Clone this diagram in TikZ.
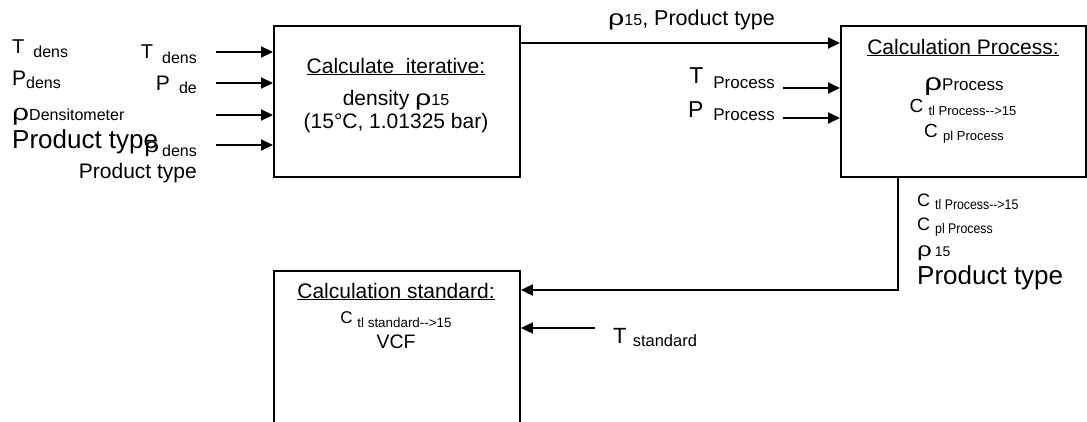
\documentclass[tikz,border=0pt]{standalone}
\usepackage{graphicx}
\usepackage{fontspec}
\setmainfont{Liberation Sans}
\newfontfamily\narrowfont{Liberation Sans}[FakeStretch=0.88]
\usetikzlibrary{arrows.meta}
\newcommand\myfs[1]{\fontsize{#1}{#1}\selectfont}
\newcommand\lowsub[2]{\raisebox{-#1}{#2}}
\newcommand\rh[1]{\scalebox{1.3}[1]{\myfs{#1}ρ}}
\begin{document}
\begin{tikzpicture}[x=1pt,y=-1pt,
  box/.style={draw=black, line width=1.9pt, rectangle, inner sep=0pt, anchor=north west},
  conn/.style={line width=1.9pt, -{Triangle[length=12pt,width=11pt]}},
  txt/.style={inner sep=0pt, anchor=base west},
  txtr/.style={inner sep=0pt, anchor=base east},
  txtc/.style={inner sep=0pt, anchor=base},
]
\useasboundingbox (0,0) rectangle (1087,421);
% boxes
\node[box, minimum width=246pt, minimum height=151pt] (lbox) at (273,25) {};
\node[box, minimum width=245pt, minimum height=151pt] (rbox) at (840,25) {};
\begin{scope}
\clip (0,0) rectangle (1087,421);
\node[box, minimum width=246pt, minimum height=170pt] (std) at (273,270) {};
\end{scope}

% left column 1
\node[txt] (t1) at (12,53) {\myfs{20}T\hspace{9pt}\lowsub{4pt}{\myfs{16}dens}};
\node[txt] (p1) at (12,85) {\myfs{21}P\lowsub{3pt}{\myfs{16}dens}};
\node[txt] (r1) at (12,120) {\rh{23}\myfs{16}Densitometer};
\node[txt] (pt1) at (12,148) {\myfs{26}Product type};
% left column 2
\node[txtr] (t2) at (197,58) {\myfs{20}T\hspace{9pt}\lowsub{5pt}{\myfs{16}dens}};
\node[txtr] (p2) at (197,90) {\myfs{21}P\hspace{9pt}\lowsub{3pt}{\myfs{16}de}};
\node[txtr] (r2) at (197,156) {\raisebox{4pt}{\rh{20}}\hspace{3pt}\myfs{16}dens};
\node[txtr] (pt2) at (197,178) {\myfs{21}Product type};
% left arrows
\coordinate (a1) at (216,52);
\coordinate (a2) at (216,83);
\coordinate (a3) at (216,115);
\coordinate (a4) at (216,145);
\foreach \a in {a1,a2,a3,a4} \draw[conn] (\a) -- (\a -| lbox.west);

% left box text
\node[txtc] (lt) at (396,73) {\myfs{21}\underline{Calculate\ \ iterative:}};
\node[txtc] (ld) at (396,105) {\myfs{21}density \rh{22}\myfs{16}15};
\node[txtc] (lc) at (396,128) {\myfs{21}(15°C, 1.01325 bar)};

% top connector
\coordinate (ty) at (0,43);
\draw[conn] (ty -| lbox.east) -- (ty -| rbox.west);
\node[txt] (tl) at (608,25) {\rh{22}\myfs{16}15\myfs{21.5}, Product type};

% right box text
\node[txtc] (rt) at (963,54) {\myfs{21}\underline{Calculation Process:}};
\node[txtc] (rr) at (964,90) {\rh{24}\myfs{17}Process};
\node[txtc] (rc1) at (963,112) {\myfs{19}C \lowsub{3pt}{\myfs{13}tl Process-{}->15}};
\node[txtc] (rc2) at (964,137) {\myfs{19}C \lowsub{3pt}{\myfs{13}pl Process}};

% process inputs
\node[txtr] (tp) at (775,88) {\raisebox{5pt}{\myfs{23}T}\hspace{10pt}\myfs{17}Process};
\node[txtr] (pp) at (775,120) {\raisebox{3pt}{\myfs{23}P}\hspace{10pt}\myfs{17}Process};
\coordinate (b1) at (783,88);
\coordinate (b2) at (783,118);
\draw[conn] (b1) -- (b1 -| rbox.west);
\draw[conn] (b2) -- (b2 -| rbox.west);

% process -> standard
\coordinate (vx) at (898,0);
\coordinate (hy) at (0,290);
\draw[conn] (rbox.south -| vx) |- (hy -| std.east);

% lower right labels
\node[txt] (lc1) at (917,206) {\myfs{18}C \lowsub{3pt}{\narrowfont\myfs{14}tl Process-{}->15}};
\node[txt] (lc2) at (917,230) {\myfs{18}C \lowsub{3pt}{\narrowfont\myfs{14}pl Process}};
\node[txt] (lr) at (917,256) {\rh{20} \myfs{14}15};
\node[txt] (lp) at (917,284) {\myfs{26}Product type};

% standard box text
\node[txtc] (st) at (396,298) {\myfs{21}\underline{Calculation standard:}};
\node[txtc] (sc) at (396,323) {\myfs{17}C \lowsub{4pt}{\myfs{13.4}tl standard-{}->15}};
\node[txtc] (sv) at (396,348) {\myfs{19.5}VCF};
\node[txt] (ts) at (613,343) {\myfs{22}T \lowsub{3pt}{\myfs{16.5}standard}};
\coordinate (c1) at (595,328);
\draw[conn] (c1) -- (c1 -| std.east);
\end{tikzpicture}
\end{document}
